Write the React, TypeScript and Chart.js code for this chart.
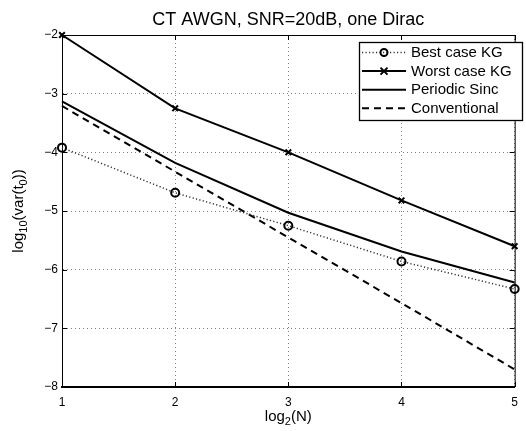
import React, { useEffect, useRef } from "react";
import { Chart, registerables } from "chart.js";

Chart.register(...registerables);

const titleText = "CT AWGN, SNR=20dB, one Dirac";
const nValues = [1, 2, 3, 4, 5];
const xTicks = [1, 2, 3, 4, 5];
const yTicks = [-8, -7, -6, -5, -4, -3, -2];
const bestCaseKG = [-3.92, -4.69, -5.25, -5.86, -6.33];
const worstCaseKG = [-2.0, -3.25, -4.0, -4.82, -5.6];
const periodicSinc = [-3.13, -4.18, -5.03, -5.69, -6.22];
const conventional = [-3.21, -4.33, -5.45, -6.57, -7.7];
const legendLabels = ["Best case KG", "Worst case KG", "Periodic Sinc", "Conventional"];

const FONT = "'Liberation Sans', Arial, Helvetica, sans-serif";

const pts = (ys: number[]) => nValues.map((x, i) => ({ x, y: ys[i] }));

const decorPlugin = {
  id: "decor",
  afterDraw(chart: any) {
    const ctx = chart.ctx as CanvasRenderingContext2D;
    const { left, right, top, bottom } = chart.chartArea;
    const xs = chart.scales.x;
    const ys = chart.scales.y;
    ctx.save();
    ctx.strokeStyle = "#000";
    ctx.lineWidth = 1;
    ctx.setLineDash([]);
    ctx.beginPath();
    ctx.moveTo(left, top + 0.5);
    ctx.lineTo(right, top + 0.5);
    ctx.moveTo(right + 0.5, top);
    ctx.lineTo(right + 0.5, bottom);
    ctx.stroke();
    ctx.beginPath();
    xTicks.forEach((v) => {
      const px = Math.round(xs.getPixelForValue(v)) + 0.5;
      ctx.moveTo(px, bottom);
      ctx.lineTo(px, bottom - 5);
      ctx.moveTo(px, top);
      ctx.lineTo(px, top + 5);
    });
    yTicks.forEach((v) => {
      const py = Math.round(ys.getPixelForValue(v)) + 0.5;
      ctx.moveTo(left, py);
      ctx.lineTo(left + 5, py);
      ctx.moveTo(right, py);
      ctx.lineTo(right - 5, py);
    });
    ctx.stroke();

    ctx.fillStyle = "#000";
    ctx.font = `18px ${FONT}`;
    ctx.textAlign = "center";
    ctx.textBaseline = "alphabetic";
    ctx.fillText(titleText, (left + right) / 2, 25);

    const drawSubText = (parts: { t: string; sub?: boolean }[], cx: number, cy: number) => {
      let total = 0;
      parts.forEach((p) => {
        ctx.font = p.sub ? `11px ${FONT}` : `15px ${FONT}`;
        total += ctx.measureText(p.t).width;
      });
      let x = cx - total / 2;
      ctx.textAlign = "left";
      parts.forEach((p) => {
        ctx.font = p.sub ? `11px ${FONT}` : `15px ${FONT}`;
        ctx.fillText(p.t, x, p.sub ? cy + 4 : cy);
        x += ctx.measureText(p.t).width;
      });
    };
    drawSubText([{ t: "log" }, { t: "2", sub: true }, { t: "(N)" }], (left + right) / 2, 421);

    ctx.save();
    ctx.translate(23, (top + bottom) / 2);
    ctx.rotate(-Math.PI / 2);
    drawSubText(
      [{ t: "log" }, { t: "10", sub: true }, { t: "(var(t" }, { t: "0", sub: true }, { t: "))" }],
      0,
      0
    );
    ctx.restore();

    const lx = 359, ly = 42, lw = 163, lh = 78;
    ctx.fillStyle = "#fff";
    ctx.fillRect(lx, ly, lw, lh);
    ctx.strokeStyle = "#000";
    ctx.lineWidth = 1.3;
    ctx.strokeRect(lx + 0.5, ly + 0.5, lw, lh);
    const rowY0 = 52.5, step = 18.6;
    const sx0 = 362, sx1 = 406, smid = 384;
    chart.data.datasets.forEach((ds: any, i: number) => {
      const y = rowY0 + i * step;
      ctx.strokeStyle = ds.borderColor;
      ctx.lineWidth = ds.borderWidth;
      ctx.setLineDash(ds.borderDash || []);
      ctx.beginPath();
      ctx.moveTo(sx0, y);
      ctx.lineTo(sx1, y);
      ctx.stroke();
      ctx.setLineDash([]);
      if (ds.pointRadius > 0) {
        ctx.strokeStyle = "#000";
        ctx.lineWidth = 2;
        ctx.beginPath();
        if (ds.pointStyle === "circle") {
          ctx.arc(smid, y, 3.5, 0, Math.PI * 2);
        } else {
          const r = 3.5;
          ctx.moveTo(smid - r, y - r);
          ctx.lineTo(smid + r, y + r);
          ctx.moveTo(smid - r, y + r);
          ctx.lineTo(smid + r, y - r);
        }
        ctx.stroke();
      }
      ctx.fillStyle = "#000";
      ctx.font = `15px ${FONT}`;
      ctx.textAlign = "left";
      ctx.textBaseline = "middle";
      ctx.fillText(legendLabels[i], 411, y + 0.5);
    });
    ctx.restore();
  },
};

const minusFmt = (v: any) => String(v).replace("-", "\u2212");

export default function App() {
  const ref = useRef<HTMLCanvasElement | null>(null);
  useEffect(() => {
    if (!ref.current) return;
    const gridColor = "#808080";
    const chart = new Chart(ref.current, {
      type: "line",
      data: {
        datasets: [
          {
            label: legendLabels[0],
            data: pts(bestCaseKG),
            borderColor: "#333",
            borderWidth: 1.5,
            borderDash: [1.2, 2.3],
            pointStyle: "circle",
            pointRadius: 4,
            pointBorderWidth: 2,
            pointBorderColor: "#000",
            pointBackgroundColor: "rgba(0,0,0,0)",
            clip: false,
          } as any,
          {
            label: legendLabels[1],
            data: pts(worstCaseKG),
            borderColor: "#000",
            borderWidth: 2,
            pointStyle: "crossRot",
            pointRadius: 4,
            pointBorderWidth: 2,
            pointBorderColor: "#000",
            clip: false,
          },
          {
            label: legendLabels[2],
            data: pts(periodicSinc),
            borderColor: "#000",
            borderWidth: 2,
            pointRadius: 0,
            clip: false,
          },
          {
            label: legendLabels[3],
            data: pts(conventional),
            borderColor: "#000",
            borderWidth: 2,
            borderDash: [7, 5],
            pointRadius: 0,
            clip: false,
          },
        ],
      },
      options: {
        responsive: false,
        animation: false,
        layout: { padding: { top: 35, right: 2, left: 0, bottom: 0 } },
        plugins: { legend: { display: false }, tooltip: { enabled: false }, title: { display: false } },
        scales: {
          x: {
            type: "linear",
            min: 1,
            max: 5,
            afterFit: (s: any) => {
              s.height = 44;
            },
            afterBuildTicks: (s: any) => {
              s.ticks = xTicks.map((v) => ({ value: v }));
            },
            grid: { color: gridColor, lineWidth: 1, drawTicks: false, tickLength: 0 },
            border: { display: true, color: "#000", width: 2, dash: [1, 3] },
            ticks: { padding: 8, color: "#000", font: { family: FONT, size: 12 }, callback: minusFmt },
          } as any,
          y: {
            type: "linear",
            min: -8,
            max: -2,
            afterFit: (s: any) => {
              s.width = 62;
            },
            afterBuildTicks: (s: any) => {
              s.ticks = yTicks.map((v) => ({ value: v }));
            },
            grid: { color: gridColor, lineWidth: 1, drawTicks: false, tickLength: 0 },
            border: { display: true, color: "#000", width: 1, dash: [1, 3] },
            ticks: { padding: 4, color: "#000", font: { family: FONT, size: 12 }, callback: minusFmt },
          } as any,
        },
      },
      plugins: [decorPlugin],
    });
    return () => chart.destroy();
  }, []);
  return (
    <div style={{ position: "fixed", left: 0, top: 0, width: 526, height: 431 }}>
      <canvas ref={ref} width={526} height={431} style={{ width: 526, height: 431 }} />
    </div>
  );
}
